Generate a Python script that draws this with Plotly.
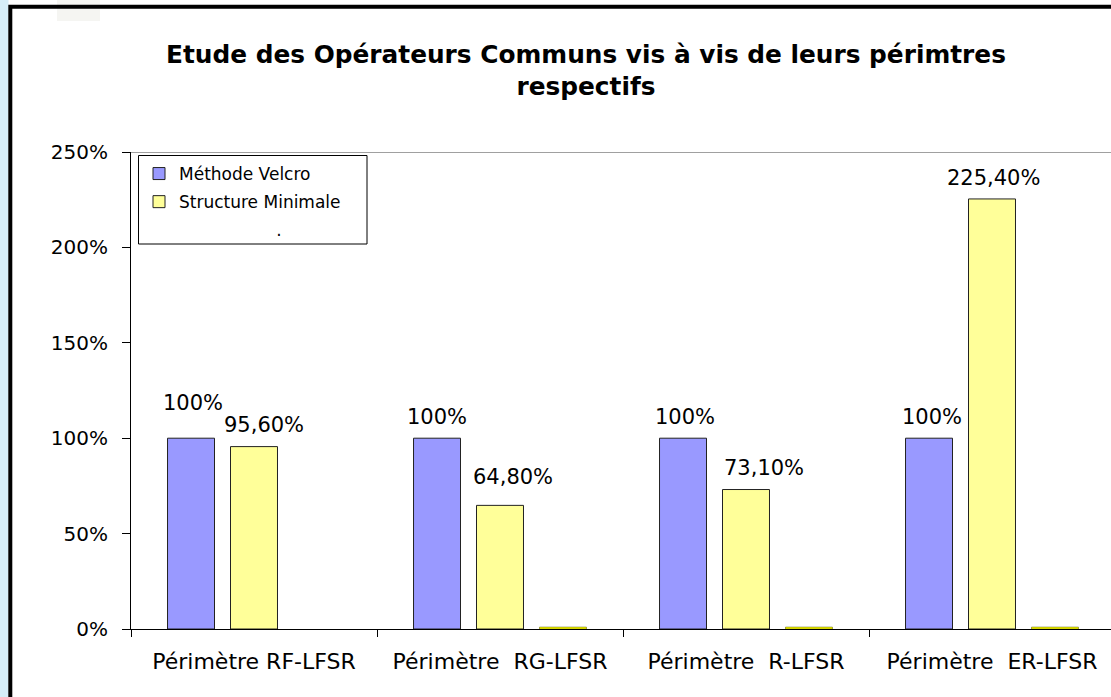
import plotly.graph_objects as go

# ---- data ----
categories = ["Périmètre RF-LFSR", "Périmètre\u00a0 RG-LFSR", "Périmètre\u00a0 R-LFSR", "Périmètre\u00a0 ER-LFSR"]
velcro = [100, 100, 100, 100]
structure_min = [95.6, 64.8, 73.1, 225.4]
third_series = [None, 1.0, 1.0, 1.0]
series_names = ["Méthode Velcro", "Structure Minimale"]
y_ticks = [0, 50, 100, 150, 200, 250]
y_tick_labels = [f"{t}%" for t in y_ticks]

# ---- page geometry (pixels) ----
W, H = 1111, 697
L, T, B, R = 131, 152, 68, 0
PW, PH = W - L - R, H - T - B
GROUP_PX = 246.0


def px_x(px):
    return (px - L) / PW


def px_y(py):
    return 1 - (py - T) / PH


def pct_label(v, decimals):
    return f"{v:.{decimals}f}".replace(".", ",") + "%"


FONT = "DejaVu Sans"
BLUE = "#9999FF"
YELLOW = "#FFFF99"
BRIGHT = "#FFFF00"

fig = go.Figure()
fig.add_trace(go.Bar(x=categories, y=velcro, name=series_names[0], legendgroup="a",
                     marker=dict(color=BLUE, line=dict(color="#222222", width=1))))
fig.add_trace(go.Bar(x=categories, y=structure_min, name=series_names[1], legendgroup="b",
                     marker=dict(color=YELLOW, line=dict(color="#222222", width=1))))
fig.add_trace(go.Bar(x=categories, y=third_series, name=".", showlegend=False, legendgroup="c",
                     marker=dict(color=BRIGHT, line=dict(color="#555500", width=0.5))))
# blank third legend row
fig.add_trace(go.Scatter(x=[None], y=[None], mode="markers", legendgroup="c",
                         marker=dict(color="rgba(0,0,0,0)", size=1, opacity=0),
                         name="\u00a0" * 18 + "."))

# value labels (hand-placed offsets in pixels)
slot = (1 - 0.232) / 3
blue_dx = [2, 0, 2, 3]
blue_dy = [35, 21, 21, 21]
yel_dx = [10, 13, 18, 1]
yel_dy = [22, 28, 22, 21]
for i, v in enumerate(velcro):
    fig.add_annotation(x=i - slot, y=v, xref="x", yref="y", text=pct_label(v, 0),
                       showarrow=False, xshift=blue_dx[i], yshift=blue_dy[i],
                       yanchor="middle", font=dict(family=FONT, size=21, color="black"))
for i, v in enumerate(structure_min):
    fig.add_annotation(x=i, y=v, xref="x", yref="y", text=pct_label(v, 2),
                       showarrow=False, xshift=yel_dx[i], yshift=yel_dy[i],
                       yanchor="middle", font=dict(family=FONT, size=21, color="black"))

shapes = [
    # light strip on the far left
    dict(type="rect", xref="paper", yref="paper", x0=px_x(0), x1=px_x(8.5), y0=px_y(H + 5), y1=px_y(-5),
         fillcolor="#d6eef8", line=dict(width=0), layer="below"),
    # faint patch at top left
    dict(type="rect", xref="paper", yref="paper", x0=px_x(57), x1=px_x(100), y0=px_y(21), y1=px_y(-2),
         fillcolor="#f5f5f2", line=dict(width=0), layer="below"),
    # outer chart frame
    dict(type="rect", xref="paper", yref="paper", x0=px_x(10.3), x1=px_x(W + 60), y0=px_y(H + 60), y1=px_y(6.8),
         fillcolor="rgba(0,0,0,0)", line=dict(color="black", width=4)),
    # top border of plot area
    dict(type="line", xref="paper", yref="y", x0=0, x1=1, y0=250, y1=250,
         line=dict(color="#808080", width=1.5)),
    # legend frame
    dict(type="rect", xref="paper", yref="paper", x0=px_x(138.5), x1=px_x(367), y0=px_y(244), y1=px_y(155.5),
         fillcolor="white", line=dict(color="black", width=1)),
]

fig.update_layout(
    width=W, height=H,
    margin=dict(l=L, r=R, t=T, b=B, autoexpand=False),
    paper_bgcolor="white", plot_bgcolor="white",
    barmode="group", bargap=0.232, bargroupgap=0.254,
    font=dict(family=FONT, color="black"),
    title=dict(text="<b>Etude des Opérateurs Communs vis à vis de leurs périmtres<br>respectifs</b>",
               x=586 / W, xanchor="center", xref="container",
               y=1 - 63 / H, yanchor="top", yref="container",
               font=dict(family=FONT, size=24.8, color="black")),
    legend=dict(x=px_x(139), y=px_y(156), xanchor="left", yanchor="top",
                bgcolor="rgba(0,0,0,0)", borderwidth=0,
                font=dict(family=FONT, size=17, color="black"), tracegroupgap=3),
    shapes=shapes,
    showlegend=True,
)

fig.update_xaxes(type="category", range=[-0.5, -0.5 + PW / GROUP_PX],
                 showline=True, linecolor="black", linewidth=1,
                 ticks="outside", tickson="boundaries", ticklen=7, tickcolor="black",
                 tickfont=dict(family=FONT, size=22, color="black"),
                 ticklabelstandoff=13, showgrid=False, zeroline=False)
fig.update_yaxes(range=[0, 250], tickmode="array", tickvals=y_ticks, ticktext=y_tick_labels,
                 showline=True, linecolor="black", linewidth=1,
                 ticks="outside", ticklen=8, tickcolor="black",
                 tickfont=dict(family=FONT, size=20, color="black"),
                 ticklabelstandoff=10, showgrid=False, zeroline=False)

fig.write_html("out.html")
